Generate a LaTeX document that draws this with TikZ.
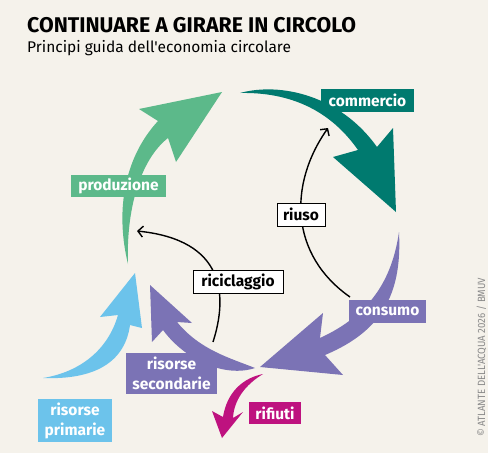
\documentclass[tikz,border=0pt]{standalone}
\usepackage{fontspec}
\setmainfont{Fira Sans}[Ligatures=TeXOff]
\usetikzlibrary{arrows.meta}
\definecolor{bgc}{HTML}{F5F2EB}
\definecolor{cgreen}{HTML}{5CB98A}
\definecolor{cteal}{HTML}{007A6F}
\definecolor{cpurple}{HTML}{7B73B5}
\definecolor{cblue}{HTML}{6CC3EB}
\definecolor{cmag}{HTML}{BE127F}
\definecolor{cgray}{HTML}{8A8A8A}
\begin{document}
\begin{tikzpicture}[x=1pt,y=-1pt,
  lab/.style={fill=#1, text=white, font=\fontsize{15.5}{20}\selectfont\bfseries, inner sep=0pt, align=center},
  wlab/.style={fill=white, draw=black, line width=0.8pt, text=black, font=\fontsize{15.5}{20}\selectfont\bfseries, inner sep=0pt},
  blk/.style={draw=black, line width=1.4pt, -{Straight Barb[length=5pt,width=11pt,line width=1.4pt]}}]
\fill[bgc] (0,0) rectangle (488,453);
\useasboundingbox (0,0) rectangle (488,453);

% title
\node[anchor=base west, inner sep=0pt, font=\fontsize{21.3}{24}\selectfont\bfseries] (title) at (27,32) {CONTINUARE A GIRARE IN CIRCOLO};
\node[anchor=base west, inner sep=0pt, font=\fontsize{15.5}{18}\selectfont] (sub) at (27,52) {Principi guida dell'economia circolare};

% green arrow (produzione)
\fill[cgreen] (128,264) .. controls (116,215) and (122,160) .. (158,121) -- (139,109) -- (222,92) -- (176,162) -- (168,138) .. controls (140,160) and (126,210) .. (128,264) -- cycle;
% teal arrow (commercio)
\fill[cteal] (240,93) .. controls (280,82) and (340,95) .. (377,147) -- (393,128) -- (396,212) -- (333,157) -- (358,150) .. controls (330,110) and (290,92) .. (240,93) -- cycle;
% purple arrow (consumo)
\fill[cpurple] (399,232) .. controls (402,290) and (385,330) .. (325,355) -- (343,375) -- (260,367) -- (323,313) -- (320,338) .. controls (370,315) and (392,280) .. (399,232) -- cycle;
% purple arrow (risorse secondarie)
\fill[cpurple] (255,368) .. controls (225,378) and (185,360) .. (163,330) -- (152,342) -- (150,285) -- (192,323) -- (177,322) .. controls (200,350) and (230,358) .. (255,368) -- cycle;
% light blue arrow (risorse primarie)
\fill[cblue] (43,378) .. controls (80,372) and (108,350) .. (118,315) -- (100,317) -- (135,273) -- (142,328) -- (130,325) .. controls (125,362) and (95,380) .. (43,378) -- cycle;
% magenta arrow (rifiuti)
\fill[cmag] (263,374) .. controls (243,378) and (227,392) .. (223,417) -- (212,411) -- (222,438) -- (243,412) -- (233,418) .. controls (234,400) and (245,385) .. (263,374) -- cycle;

% thin black arrows
\coordinate (riusoS) at (350,297);
\coordinate (riusoE) at (328,128);
\coordinate (ricS) at (213,342);
\coordinate (ricE) at (137,231);
\draw[blk] (riusoS) .. controls (290,255) and (288,185) .. (riusoE);
\draw[blk] (ricS) .. controls (228,295) and (225,240) .. (ricE);

% labels
\node[lab=cgreen, minimum width=95pt, minimum height=22pt] (prod) at (118.5,186) {produzione};
\node[lab=cteal, minimum width=93pt, minimum height=23pt] (comm) at (367.5,100.5) {commercio};
\node[wlab, minimum width=48pt, minimum height=23pt] (riuso) at (301,214.5) {riuso};
\node[wlab, minimum width=90pt, minimum height=23pt] (ric) at (238,282) {riciclaggio};
\node[lab=cpurple, minimum width=77pt, minimum height=23pt] (cons) at (387.5,311.5) {consumo};
\node[lab=cpurple, minimum width=91pt, minimum height=41pt] (rsec) at (171.5,373.5) {risorse\\secondarie};
\node[lab=cblue, minimum width=74pt, minimum height=43pt] (rprim) at (75,420.5) {risorse\\primarie};
\node[lab=cmag, minimum width=52pt, minimum height=22pt] (rif) at (275,413) {rifiuti};

% credit
\node[rotate=90, anchor=base west, inner sep=0pt, text=cgray, font=\fontsize{10.5}{12}\selectfont] (credit) at (485,437) {\scalebox{0.92}[1]{© ATLANTE DELL'ACQUA 2026 / BMUV}};
\end{tikzpicture}
\end{document}
